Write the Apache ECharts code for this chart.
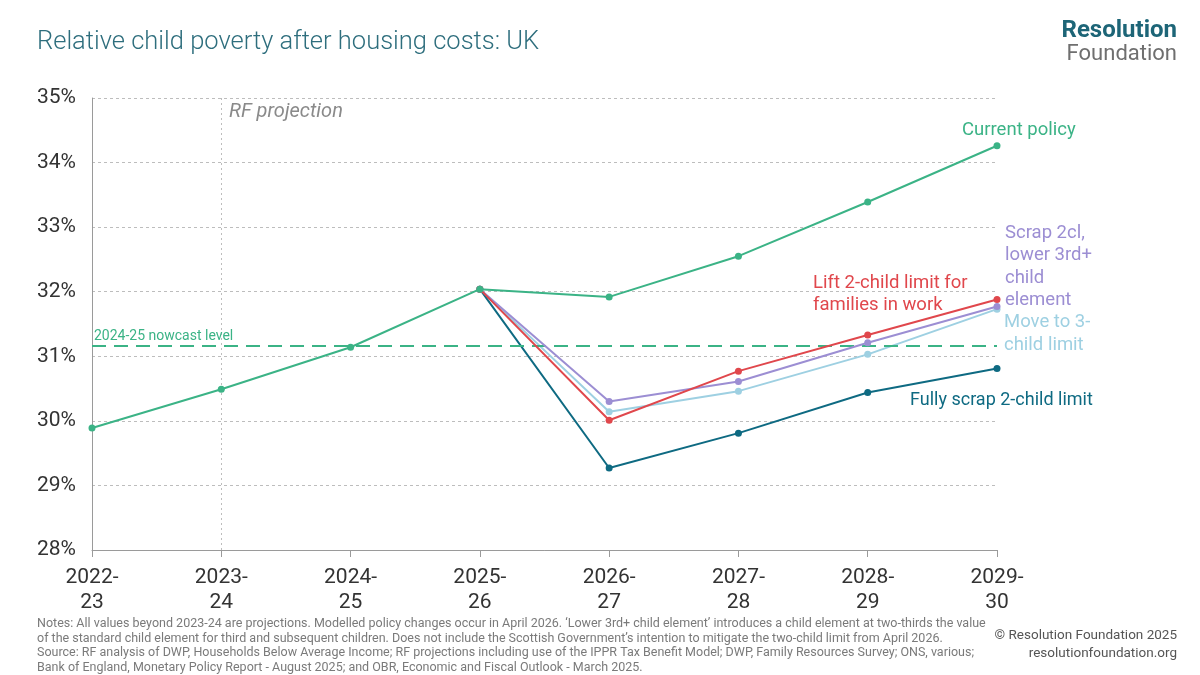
<!DOCTYPE html>
<html>
<head>
<meta charset="utf-8">
<script src="https://cdn.jsdelivr.net/npm/echarts@6/dist/echarts.min.js"></script>
<style>
  html, body { margin: 0; padding: 0; background: #fff; }
  #chart { width: 1200px; height: 675px; }
</style>
</head>
<body>
<div id="chart"></div>
<script>
var years = ['2022-\n23', '2023-\n24', '2024-\n25', '2025-\n26', '2026-\n27', '2027-\n28', '2028-\n29', '2029-\n30'];
var yTicks = [28, 29, 30, 31, 32, 33, 34, 35];

var current_policy = [29.89, 30.49, 31.14, 32.04, 31.92, 32.55, 33.39, 34.26];
var lift_in_work   = [null, null, null, 32.04, 30.01, 30.77, 31.33, 31.88];
var scrap_lower3rd = [null, null, null, 32.04, 30.30, 30.61, 31.21, 31.77];
var move_to_3      = [null, null, null, 32.04, 30.14, 30.46, 31.03, 31.73];
var fully_scrap    = [null, null, null, 32.04, 29.27, 29.81, 30.44, 30.81];
var nowcast_level = 31.16;

var FONT = '"Roboto", "Noto Sans", sans-serif';
var col_green = '#3bb386';
var col_red = '#e0474c';
var col_purple = '#9c8ed3';
var col_light = '#9ed0e2';
var col_teal = '#0e6a82';

var chart = echarts.init(document.getElementById('chart'));

function mk_series(name, data, color, z) {
    return {
        name: name,
        type: 'line',
        data: data,
        z: z,
        symbol: 'circle',
        symbolSize: 7,
        showSymbol: true,
        connectNulls: false,
        lineStyle: { color: color, width: 2 },
        itemStyle: { color: color },
        emphasis: { disabled: true },
        animation: false
    };
}

var series = [
    mk_series('Fully scrap 2-child limit', fully_scrap, col_teal, 3),
    mk_series('Move to 3-child limit', move_to_3, col_light, 4),
    mk_series('Scrap 2cl, lower 3rd+ child element', scrap_lower3rd, col_purple, 5),
    mk_series('Lift 2-child limit for families in work', lift_in_work, col_red, 6),
    mk_series('Current policy', current_policy, col_green, 7)
];

// reference lines: nowcast level and projection start
series[4].markLine = {
    silent: true,
    symbol: 'none',
    animation: false,
    data: [
        {
            yAxis: nowcast_level,
            lineStyle: { color: col_green, type: [14, 8], width: 2 },
            label: {
                show: true, position: 'insideStartTop', formatter: '2024-25 nowcast level',
                color: col_green, fontFamily: FONT, fontSize: 14, distance: [2, 2]
            }
        },
        {
            xAxis: 1,
            lineStyle: { color: '#bdbdbd', type: [2, 3], width: 1 },
            label: { show: false }
        }
    ]
};

var option = {
    backgroundColor: '#fff',
    animation: false,
    textStyle: { fontFamily: FONT },
    grid: { left: 92, right: 203, top: 98, bottom: 125 },
    xAxis: {
        type: 'category',
        data: years,
        boundaryGap: false,
        axisLine: { lineStyle: { color: '#9a9a9a', width: 1 } },
        axisTick: { show: true, length: 7, lineStyle: { color: '#9a9a9a' } },
        axisLabel: { color: '#333', fontSize: 21, lineHeight: 25, margin: 15, fontFamily: FONT },
        splitLine: { show: false }
    },
    yAxis: {
        type: 'value',
        min: 28,
        max: 35,
        interval: 1,
        axisLine: { show: true, lineStyle: { color: '#9a9a9a', width: 1 } },
        axisTick: { show: false },
        axisLabel: { color: '#333', fontSize: 21, margin: 16, fontFamily: FONT, formatter: '{value}%' },
        splitLine: { lineStyle: { color: '#bdbdbd', type: [3, 3], width: 1 } }
    },
    series: series,
    graphic: [
        { type: 'text', left: 37, top: 30, style: { text: 'Relative child poverty after housing costs: UK', fill: '#2e6e7d', font: '300 25.5px ' + FONT } },
        { type: 'text', right: 23, top: 19, style: { text: 'Resolution', fill: '#1d6577', font: 'bold 24px ' + FONT, textAlign: 'right' } },
        { type: 'text', right: 23, top: 43, style: { text: 'Foundation', fill: '#6f6f6f', font: '22px ' + FONT, textAlign: 'right' } },
        { type: 'text', left: 229, top: 102, style: { text: 'RF projection', fill: '#8a8a8a', font: 'italic 20px ' + FONT } },

        { type: 'text', left: 962, top: 121, style: { text: 'Current policy', fill: col_green, font: '18.5px ' + FONT } },
        { type: 'text', left: 813, top: 272, style: { text: 'Lift 2-child limit for\nfamilies in work', fill: col_red, font: '18.5px ' + FONT, lineHeight: 22 } },
        { type: 'text', left: 1005, top: 222, style: { text: 'Scrap 2cl,\nlower 3rd+\nchild\nelement', fill: col_purple, font: '18.5px ' + FONT, lineHeight: 22.5 } },
        { type: 'text', left: 1004, top: 311, style: { text: 'Move to 3-\nchild limit', fill: col_light, font: '18.5px ' + FONT, lineHeight: 23 } },
        { type: 'text', left: 910, top: 391, style: { text: 'Fully scrap 2-child limit', fill: col_teal, font: '18px ' + FONT } },

        { type: 'text', left: 37, top: 617, style: {
            text: 'Notes: All values beyond 2023-24 are projections. Modelled policy changes occur in April 2026. \u2018Lower 3rd+ child element\u2019 introduces a child element at two-thirds the value\n' +
                  'of the standard child element for third and subsequent children. Does not include the Scottish Government\u2019s intention to mitigate the two-child limit from April 2026.\n' +
                  'Source: RF analysis of DWP, Households Below Average Income; RF projections including use of the IPPR Tax Benefit Model; DWP, Family Resources Survey; ONS, various;\n' +
                  'Bank of England, Monetary Policy Report - August 2025; and OBR, Economic and Fiscal Outlook - March 2025.',
            fill: '#7a7a7a', font: '12.5px ' + FONT, lineHeight: 14.5 } },
        { type: 'text', right: 23, top: 629, style: { text: '\u00a9 Resolution Foundation 2025', fill: '#555', font: '13.5px ' + FONT, textAlign: 'right' } },
        { type: 'text', right: 23, top: 647, style: { text: 'resolutionfoundation.org', fill: '#555', font: '13.5px ' + FONT, textAlign: 'right' } }
    ]
};

chart.setOption(option);
</script>
</body>
</html>
